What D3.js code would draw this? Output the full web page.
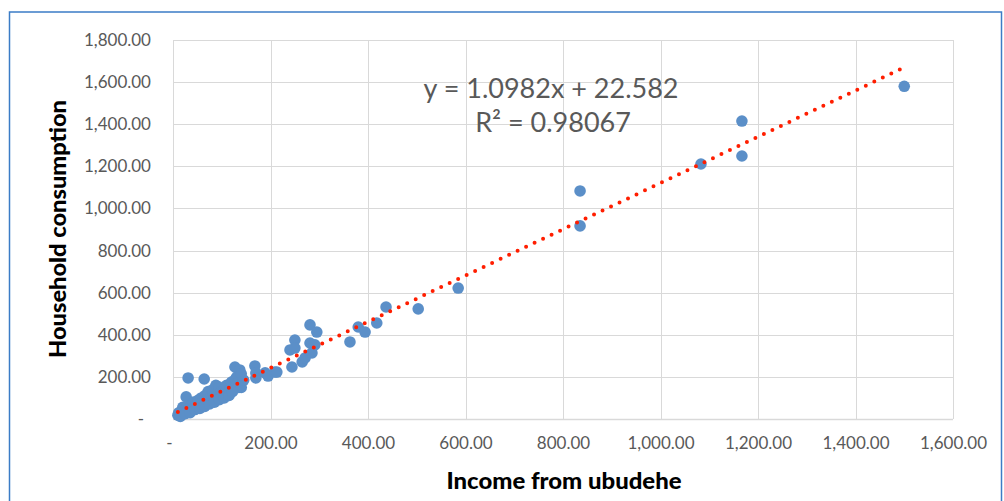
<!DOCTYPE html>
<html>
<head>
<meta charset="utf-8">
<script src="https://cdn.jsdelivr.net/npm/d3@7"></script>
<style>
  html, body { margin: 0; padding: 0; background: #fff; }
  svg { display: block; }
</style>
</head>
<body>
<svg id="chart" width="1004" height="501"></svg>
<script>
// ---- data ----
const incomeX = [
  10, 12, 15, 18, 20, 22, 25, 27, 28, 30, 31, 32, 35, 38, 40, 42, 45, 48, 50, 52,
  55, 58, 60, 62, 64, 65, 68, 70, 72, 75, 78, 80, 82, 85, 88, 90, 92, 95, 98, 100,
  105, 108, 110, 113, 115, 118, 120, 125, 127, 128, 130, 131, 133, 135, 137, 140, 140, 145,
  15, 25, 35, 45, 55, 65, 75, 85, 95, 105, 115, 122,
  168, 170, 170, 189, 195, 209, 213, 240, 244, 250, 250, 265, 271, 281, 281, 285, 291, 295,
  363, 380, 394, 418, 437, 503, 585, 835, 835, 1083, 1167, 1167, 1500
];
const consumptionY = [
  18, 30, 22, 40, 55, 35, 45, 105, 30, 60, 195, 50, 45, 70, 55, 80, 60, 75, 62, 90,
  70, 100, 80, 72, 190, 110, 85, 95, 130, 90, 115, 100, 140, 105, 160, 120, 110, 150, 130, 115,
  140, 125, 160, 114, 130, 150, 175, 145, 247, 190, 160, 200, 170, 150, 233, 150, 215, 185,
  12, 25, 30, 45, 50, 60, 72, 80, 92, 100, 112, 130,
  252, 219, 195, 219, 204, 223, 223, 328, 247, 375, 337, 271, 290, 447, 361, 314, 352, 413,
  366, 437, 413, 456, 532, 523, 622, 1083, 917, 1211, 1415, 1249, 1580
];
const xTicks = [0, 200, 400, 600, 800, 1000, 1200, 1400, 1600];
const yTicks = [0, 200, 400, 600, 800, 1000, 1200, 1400, 1600, 1800];
const slope = 1.0982, intercept = 22.582, r2 = "0.98067";
const xTitle = "Income from ubudehe";
const yTitle = "Household consumption";

// ---- drawing ----
const svg = d3.select("#chart");
const x = d3.scaleLinear().domain([0, 1600]).range([173, 953]);
const y = d3.scaleLinear().domain([0, 1800]).range([419, 40]);
const fmt = v => v === 0 ? "-" : d3.format(",.2f")(v);
const labelFont = "Lato, 'Open Sans', 'DejaVu Sans', sans-serif";
const grey = "#595959";

// outer frame
svg.append("rect")
  .attr("x", 9.5).attr("y", 12).attr("width", 992).attr("height", 600)
  .attr("fill", "none").attr("stroke", "#3B7CC6").attr("stroke-width", 1.5);

// gridlines
svg.append("g").selectAll("line").data(yTicks).join("line")
  .attr("x1", x(0)).attr("x2", x(1600))
  .attr("y1", d => Math.round(y(d)) + 0.5).attr("y2", d => Math.round(y(d)) + 0.5)
  .attr("stroke", "#D9D9D9").attr("stroke-width", d => d === 0 ? 1.5 : 1);
svg.append("g").selectAll("line").data(xTicks).join("line")
  .attr("y1", y(0)).attr("y2", y(1800))
  .attr("x1", d => Math.round(x(d)) + 0.5).attr("x2", d => Math.round(x(d)) + 0.5)
  .attr("stroke", "#D9D9D9").attr("stroke-width", 1);

// axes via d3 axis generators (tick lines hidden, labels styled)
const yAxis = svg.append("g").attr("transform", `translate(${x(0) - 22},0)`)
  .call(d3.axisLeft(y).tickValues(yTicks).tickFormat(fmt).tickSize(0).tickPadding(0));
yAxis.select(".domain").remove();
yAxis.selectAll("text")
  .attr("fill", grey).style("font-family", labelFont).style("font-size", "17px")
  .attr("dx", d => d === 0 ? -7 : 0);

const xAxis = svg.append("g").attr("transform", `translate(0,${y(0)})`)
  .call(d3.axisBottom(x).tickValues(xTicks).tickFormat(fmt).tickSize(0).tickPadding(18));
xAxis.select(".domain").remove();
xAxis.selectAll("text")
  .attr("fill", grey).style("font-family", labelFont).style("font-size", "17px")
  .attr("dx", d => d === 0 ? -4 : 0);

// points
const pts = incomeX.map((v, i) => [v, consumptionY[i]]);
svg.append("g").selectAll("circle").data(pts).join("circle")
  .attr("cx", d => x(d[0])).attr("cy", d => y(d[1])).attr("r", 5.8)
  .attr("fill", "#5B8FC8");

// trendline (dotted)
const xMin = d3.min(incomeX), xMax = d3.max(incomeX);
svg.append("line")
  .attr("x1", x(xMin)).attr("y1", y(slope * xMin + intercept))
  .attr("x2", x(xMax)).attr("y2", y(slope * xMax + intercept))
  .attr("stroke", "#FF1E00").attr("stroke-width", 4)
  .attr("stroke-linecap", "round").attr("stroke-dasharray", "0 9.4");

// equation
svg.append("text").attr("x", 551).attr("y", 98).attr("text-anchor", "middle")
  .attr("fill", grey).style("font-family", labelFont).style("font-size", "27px")
  .text(`y = ${slope}x + ${intercept}`);
svg.append("text").attr("x", 553).attr("y", 132).attr("text-anchor", "middle")
  .attr("fill", grey).style("font-family", labelFont).style("font-size", "27px")
  .text(`R² = ${r2}`);

// axis titles
svg.append("text").attr("x", 564).attr("y", 489).attr("text-anchor", "middle")
  .attr("fill", "#000").style("font-family", labelFont).style("font-size", "23px")
  .style("font-weight", "900")
  .attr("textLength", 235).attr("lengthAdjust", "spacingAndGlyphs").text(xTitle);
svg.append("text").attr("transform", "translate(66,229) rotate(-90)")
  .attr("text-anchor", "middle")
  .attr("fill", "#000").style("font-family", labelFont).style("font-size", "23px")
  .style("font-weight", "900")
  .attr("textLength", 258).attr("lengthAdjust", "spacingAndGlyphs").text(yTitle);
</script>
</body>
</html>
